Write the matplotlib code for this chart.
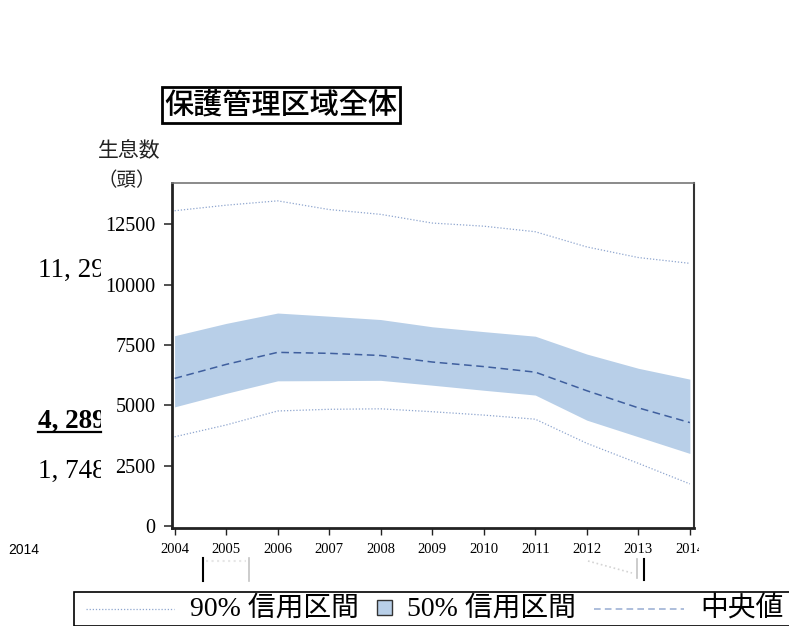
import matplotlib
matplotlib.use('Agg')
import matplotlib.pyplot as plt
from matplotlib.lines import Line2D
from matplotlib.patches import Rectangle
from matplotlib.transforms import Bbox, TransformedBbox

plt.rcParams['font.family'] = ['Liberation Serif', 'Noto Sans CJK JP']

W, H = 789, 626

# data
years = [2004, 2005, 2006, 2007, 2008, 2009, 2010, 2011, 2012, 2013, 2014]
upper90 = [13070, 13300, 13480, 13120, 12920, 12560, 12430, 12200, 11570, 11130, 10890]
upper50 = [7890, 8400, 8830, 8700, 8560, 8260, 8060, 7870, 7130, 6540, 6090]
median = [6120, 6700, 7200, 7160, 7070, 6800, 6610, 6380, 5610, 4900, 4289]
lower50 = [4940, 5500, 6020, 6030, 6040, 5840, 5630, 5430, 4390, 3700, 3010]
lower90 = [3700, 4190, 4770, 4840, 4860, 4740, 4600, 4430, 3430, 2600, 1748]
yticks = [0, 2500, 5000, 7500, 10000, 12500]
side_labels = ['11, 29', '4, 289', '1, 748']

fill_c = '#b8cfe8'
line90_c = '#8fa6cf'
med_c = '#3f5f9e'


def fx(x):
    return x / W


def fy(y):
    return 1 - y / H


fig = plt.figure(figsize=(W / 100, H / 100), dpi=100)
ax = fig.add_axes([fx(172), fy(528), (694 - 172) / W, (528 - 183) / H])

ax.fill_between(years, lower50, upper50, color=fill_c, lw=0)
ax.plot(years, upper90, color=line90_c, lw=0.9, ls=(0, (1, 1.5)))
ax.plot(years, lower90, color=line90_c, lw=0.9, ls=(0, (1, 1.5)))
ax.plot(years, median, color=med_c, lw=1.1, ls=(0, (5, 3)))

ax.set_xlim(2003.95, 2014.08)
ax.set_ylim(-80, 14220)
ax.set_xticks(years)
ax.set_yticks(yticks)
ax.tick_params(axis='y', labelsize=14.5, length=6, width=1.2, pad=6, color='#333333')
ax.tick_params(axis='x', labelsize=10.5, length=5, width=1, pad=6, color='#222222')
for s in ['left', 'bottom']:
    ax.spines[s].set_linewidth(2)
    ax.spines[s].set_color('#222222')
ax.spines['right'].set_linewidth(1.5)
ax.spines['right'].set_color('#333333')
ax.spines['top'].set_linewidth(1.2)
ax.spines['top'].set_color('#777777')

# last year label is cut off in the original
clip_r = TransformedBbox(Bbox([[0, 0], [fx(699), 1]]), fig.transFigure)
lab = ax.get_xticklabels()[-1]
lab.set_clip_on(True)
lab.set_clip_box(clip_r)

# title
fig.text(fx(281), fy(105), '保護管理区域全体', ha='center', va='center',
         fontsize=21, family=['Noto Sans CJK JP'], fontweight='medium',
         bbox=dict(boxstyle='square,pad=0.1', fc='white', ec='black', lw=2))

# y label
fig.text(fx(129), fy(152), '生息数', ha='center', va='center', fontsize=15, color='#222222')
fig.text(fx(127), fy(181), '（頭）', ha='center', va='center', fontsize=14, color='#222222')

# leftover value labels on the left, clipped
clip_l = TransformedBbox(Bbox([[0, 0], [fx(101), 1]]), fig.transFigure)
for txt, yy, bold in zip(side_labels, [270, 421, 471], [False, True, False]):
    t = fig.text(fx(38), fy(yy), txt, ha='left', va='center', fontsize=19.5,
                 fontweight='bold' if bold else 'normal')
    t.set_clip_on(True)
    t.set_clip_box(clip_l)
fig.add_artist(Line2D([fx(38), fx(101)], [fy(432), fy(432)], color='black', lw=1.6))

fig.text(fx(8), fy(550), '2014', ha='left', va='center', fontsize=10,
         family=['Liberation Sans'])

# stray fragments below the axis
fig.add_artist(Line2D([fx(203), fx(203)], [fy(558), fy(581)], color='black', lw=1.5))
fig.add_artist(Line2D([fx(249), fx(249)], [fy(558), fy(581)], color='#c4c4c4', lw=1.2))
fig.add_artist(Line2D([fx(206), fx(246)], [fy(561), fy(561)], color='#e6e6e6', lw=1.5, ls=':'))
fig.add_artist(Line2D([fx(644), fx(644)], [fy(559), fy(580)], color='black', lw=1.5))
fig.add_artist(Line2D([fx(637), fx(637)], [fy(559), fy(578)], color='#c4c4c4', lw=1.2))
fig.add_artist(Line2D([fx(588), fx(632)], [fy(561), fy(573)], color='#d4d4d4', lw=1.2, ls=':'))

# legend drawn by hand (its right side runs off the picture)
fig.add_artist(Rectangle((fx(74), fy(625.5)), fx(760), (625.5 - 592) / H,
                         transform=fig.transFigure, fc='white', ec='black', lw=1.2))
ly = 609
fig.add_artist(Line2D([fx(86), fx(174)], [fy(ly), fy(ly)], color=line90_c, lw=0.9,
                      ls=(0, (1, 1.5))))
fig.text(fx(190), fy(ly), '90% 信用区間', ha='left', va='center', fontsize=20)
fig.add_artist(Rectangle((fx(377), fy(615)), 15 / W, 15 / H, transform=fig.transFigure,
                         fc=fill_c, ec='#333333', lw=1))
fig.text(fx(407), fy(ly), '50% 信用区間', ha='left', va='center', fontsize=20)
fig.add_artist(Line2D([fx(594), fx(684)], [fy(ly), fy(ly)], color='#9fb3d6', lw=1.2,
                      ls=(0, (4, 2.5))))
fig.text(fx(700), fy(ly), '中央値', ha='left', va='center', fontsize=20)

fig.savefig('out.png', dpi=100)
